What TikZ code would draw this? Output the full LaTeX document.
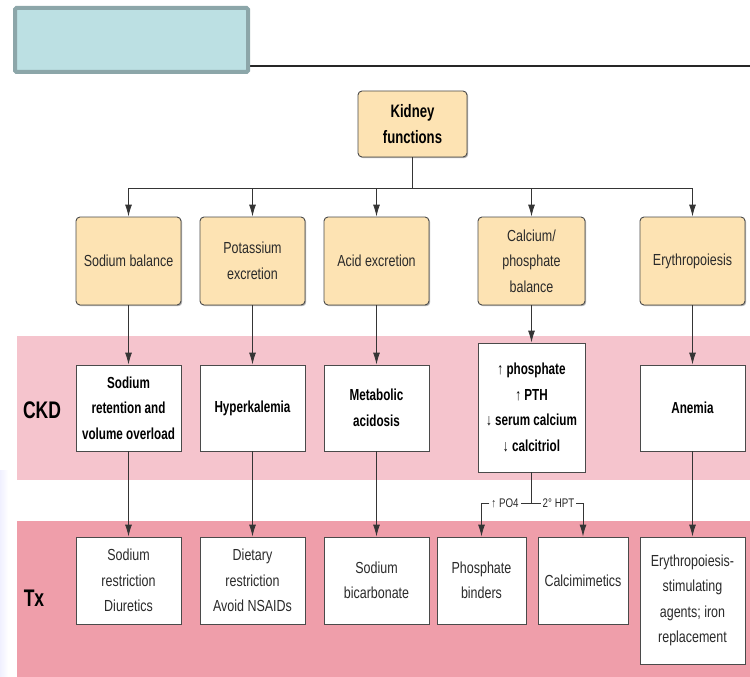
\documentclass[tikz,border=0pt]{standalone}
\usepackage{fontspec}
\setmainfont{Liberation Sans}[FakeStretch=0.78]
\newfontfamily\bcond{Liberation Sans}[FakeStretch=0.73]
\usetikzlibrary{arrows.meta,shadows}
\definecolor{orangef}{HTML}{FDE3B3}
\definecolor{bordc}{HTML}{4A4A4A}
\definecolor{ckdc}{HTML}{F5C4CD}
\definecolor{txc}{HTML}{EF9EAA}
\definecolor{tealf}{HTML}{BCE0E3}
\definecolor{teald}{HTML}{8CA6A9}
\definecolor{txt}{HTML}{2A2A2A}
\definecolor{lnc}{HTML}{353535}
\begin{document}
\begin{tikzpicture}[x=1pt,y=-1pt,
  shad/.style={drop shadow={shadow xshift=1.2pt,shadow yshift=-1.2pt,fill=black,opacity=0.3}},
  basebox/.style={draw=bordc,line width=0.9pt,align=center,inner sep=2pt,minimum width=105pt,shad},
  topbox/.style={basebox,fill=orangef,rounded corners=4pt,minimum height=88pt,text=txt,
    font=\fontsize{16}{25.5}\selectfont},
  kbox/.style={basebox,fill=orangef,rounded corners=4pt,minimum width=109pt,minimum height=66pt,
    font=\bcond\bfseries\fontsize{18}{26}\selectfont},
  midbox/.style={basebox,fill=white,minimum height=86pt,
    font=\bcond\bfseries\fontsize{16}{25.5}\selectfont},
  botbox/.style={basebox,fill=white,minimum height=87pt,text=txt,
    font=\fontsize{16}{25.5}\selectfont},
  rowlabel/.style={font=\bcond\bfseries\fontsize{24}{28}\selectfont,inner sep=0pt},
  smalllabel/.style={font=\fontsize{12.5}{14}\selectfont,inner sep=2pt,text=txt},
  plainline/.style={draw=lnc,line width=0.9pt},
  arr/.style={plainline,-{Latex[length=12pt,width=7pt]}}]
\useasboundingbox (0,0) rectangle (750,677);
% background decorations
\shade[left color=blue!6,right color=white] (0,470) rectangle (8,677);
\fill[ckdc] (17,336) rectangle (750,480);
\fill[txc] (17,521) rectangle (750,677);
\draw[line width=2pt,black!85] (14,66) -- (750,66);
\draw[line width=4pt,draw=teald,fill=tealf,rounded corners=1.5pt] (15,8) rectangle (248,72);
% root
\node[kbox] (kid) at (412.5,124) {Kidney\\functions};
% row 1
\node[topbox] (na1) at (128.5,261) {Sodium balance};
\node[topbox] (k1) at (252.5,261) {Potassium\\excretion};
\node[topbox] (a1) at (376.5,261) {Acid excretion};
\node[topbox,minimum width=107pt] (ca1) at (531.5,261) {Calcium/\\phosphate\\balance};
\node[topbox] (e1) at (692.5,261) {Erythropoiesis};
% row 2
\node[midbox] (na2) at (128.5,408) {Sodium\\retention and\\volume overload};
\node[midbox] (k2) at (252.5,408) {Hyperkalemia};
\node[midbox] (a2) at (376.5,408) {Metabolic\\acidosis};
\node[midbox,minimum width=107pt,minimum height=129pt] (ca2) at (531.5,407.5) {↑ phosphate\\↑ PTH\\↓ serum calcium\\↓ calcitriol};
\node[midbox] (e2) at (692.5,408) {Anemia};
% row 3
\node[botbox] (na3) at (128.5,580.5) {Sodium\\restriction\\Diuretics};
\node[botbox] (k3) at (252.5,580.5) {Dietary\\restriction\\Avoid NSAIDs};
\node[botbox] (a3) at (376.5,580.5) {Sodium\\bicarbonate};
\node[botbox,minimum width=89pt] (pb) at (481.5,580.5) {Phosphate\\binders};
\node[botbox,minimum width=90pt] (cm) at (583,580.5) {Calcimimetics};
\node[botbox,minimum height=127pt] (e3) at (692.5,600.5) {Erythropoiesis-\\stimulating\\agents; iron\\replacement};
% row labels
\node[rowlabel] (ckd) at (42,410) {CKD};
\node[rowlabel] (tx) at (34,598) {Tx};
% connectors
\coordinate (bus) at (412.5,188);
\draw[plainline] (kid.south) -- (bus);
\foreach \n in {na1,k1,a1,ca1,e1} \draw[arr] (bus) -| (\n.north);
\foreach \u/\v in {na1/na2,k1/k2,a1/a2,ca1/ca2,e1/e2,na2/na3,k2/k3,a2/a3,e2/e3}
  \draw[arr] (\u.south) -- (\v.north);
\coordinate (fork) at (531.5,503);
\node[smalllabel] (po4) at (505,503) {↑ PO4};
\node[smalllabel] (hpt) at (558.5,503) {2° HPT};
\draw[plainline] (ca2.south) -- (fork);
\draw[plainline] (fork) -- (po4.east);
\draw[plainline] (fork) -- (hpt.west);
\draw[arr] (po4.west) -| (pb.north);
\draw[arr] (hpt.east) -| (cm.north);
\end{tikzpicture}
\end{document}
